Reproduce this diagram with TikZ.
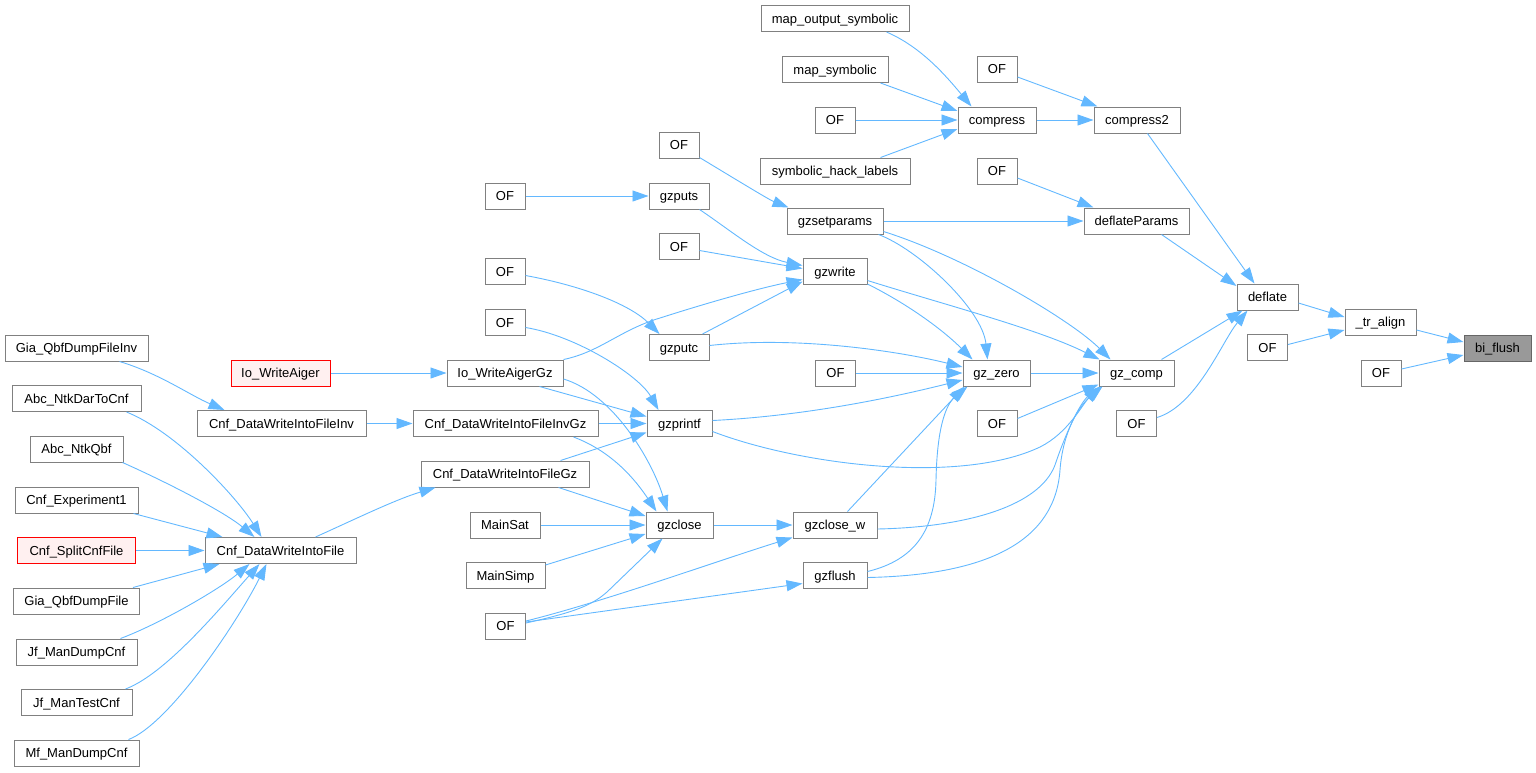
\documentclass[tikz,border=0pt]{standalone}
\usepackage{fontspec}
\setmainfont{Liberation Sans}
\usetikzlibrary{arrows.meta,calc}
\definecolor{boxgray}{HTML}{808080}
\definecolor{edgeblue}{HTML}{63B8FF}
\definecolor{redfill}{HTML}{FFF0F0}
\definecolor{curfill}{HTML}{999999}
\definecolor{curborder}{HTML}{666666}
\tikzset{
 box/.style={draw=boxgray, fill=white, line width=1pt, minimum height=26pt, inner sep=0pt, text height=12pt, text depth=2.7pt, font=\fontsize{13}{15}\selectfont},
 redbox/.style={box, draw=red, fill=redfill},
 curbox/.style={box, draw=curborder, fill=curfill},
 conn/.style={draw=edgeblue, line width=0.9pt, -{Triangle[length=16pt,width=11pt]}},
}
\begin{document}
\begin{tikzpicture}[x=1pt,y=-1pt]
\useasboundingbox (0,0) rectangle (1536,772);
% nodes
\node[box, minimum width=148pt] (mos) at (835,18.5) {map\_output\_symbolic};
\node[box, minimum width=106pt] (ms) at (835,69.5) {map\_symbolic};
\node[box, minimum width=40pt] (ofc) at (835,120) {OF};
\node[box, minimum width=150pt] (shl) at (835,171) {symbolic\_hack\_labels};
\node[box, minimum width=78pt] (cmp) at (997,120) {compress};
\node[box, minimum width=40pt] (ofc2) at (997,69) {OF};
\node[box, minimum width=86pt] (cmp2) at (1137,120) {compress2};
\node[box, minimum width=40pt] (ofdp) at (997,171) {OF};
\node[box, minimum width=105pt] (dp) at (1136.5,221) {deflateParams};
\node[box, minimum width=61pt] (dfl) at (1267.5,297) {deflate};
\node[box, minimum width=71pt] (tra) at (1380.5,322) {\_tr\_align};
\node[box, minimum width=40pt] (oftr) at (1267.5,347.5) {OF};
\node[curbox, minimum width=67pt] (bif) at (1497.5,348) {bi\_flush};
\node[box, minimum width=40pt] (ofbf) at (1381,373) {OF};
\node[box, minimum width=75pt] (gzc) at (1136.5,373) {gz\_comp};
\node[box, minimum width=67pt] (gzz) at (996.5,373) {gz\_zero};
\node[box, minimum width=40pt] (ofgzc) at (997,423.5) {OF};
\node[box, minimum width=40pt] (ofdef) at (1136.5,423.5) {OF};
\node[box, minimum width=40pt] (ofgzz) at (835.5,373) {OF};
\node[box, minimum width=96pt] (gzs) at (835,221) {gzsetparams};
\node[box, minimum width=64pt] (gzw) at (835,271.5) {gzwrite};
\node[box, minimum width=40pt] (ofgw) at (679,246.5) {OF};
\node[box, minimum width=40pt] (ofgs) at (679,145) {OF};
\node[box, minimum width=60pt] (gzpt) at (679,196) {gzputs};
\node[box, minimum width=40pt] (ofgp) at (505,196) {OF};
\node[box, minimum width=40pt] (ofpc) at (505,271.5) {OF};
\node[box, minimum width=40pt] (ofpf) at (505,322.5) {OF};
\node[box, minimum width=60pt] (gzpc) at (679,347.5) {gzputc};
\node[box, minimum width=65pt] (gzp) at (679.5,423.5) {gzprintf};
\node[box, minimum width=116pt] (iowgz) at (505,373) {Io\_WriteAigerGz};
\node[box, minimum width=185pt] (cdwfigz) at (505.5,423.5) {Cnf\_DataWriteIntoFileInvGz};
\node[box, minimum width=168pt] (cdwfgz) at (505,474) {Cnf\_DataWriteIntoFileGz};
\node[box, minimum width=70pt] (msat) at (505,525) {MainSat};
\node[box, minimum width=79pt] (msimp) at (505.5,575.5) {MainSimp};
\node[box, minimum width=40pt] (ofbot) at (505.5,626) {OF};
\node[box, minimum width=67pt] (gzcl) at (679.5,525) {gzclose};
\node[box, minimum width=84pt] (gzclw) at (835,525) {gzclose\_w};
\node[box, minimum width=64pt] (gzfl) at (835,575.5) {gzflush};
\node[redbox, minimum width=99pt] (iow) at (280.5,373) {Io\_WriteAiger};
\node[box, minimum width=169pt] (cdwfi) at (281.5,423.5) {Cnf\_DataWriteIntoFileInv};
\node[box, minimum width=151pt] (cdwf) at (280.5,550.5) {Cnf\_DataWriteIntoFile};
\node[box, minimum width=143pt] (gqdfi) at (76.5,348) {Gia\_QbfDumpFileInv};
\node[box, minimum width=129pt] (andtc) at (76.5,398.5) {Abc\_NtkDarToCnf};
\node[box, minimum width=93pt] (anq) at (76.5,449) {Abc\_NtkQbf};
\node[box, minimum width=123pt] (ce1) at (76.5,500) {Cnf\_Experiment1};
\node[redbox, minimum width=118pt] (csc) at (76.5,550.5) {Cnf\_SplitCnfFile};
\node[box, minimum width=126pt] (gqdf) at (76.5,601) {Gia\_QbfDumpFile};
\node[box, minimum width=121pt] (jmdc) at (76.5,652) {Jf\_ManDumpCnf};
\node[box, minimum width=111pt] (jmtc) at (76.5,702.5) {Jf\_ManTestCnf};
\node[box, minimum width=125pt] (mmdc) at (76.5,753) {Mf\_ManDumpCnf};
% edges: top cluster
\draw[conn] ($(mos.south west)+(126,0)$) .. controls +(35,15) and +(-25,-30) .. ($(cmp.north west)+(14,0)$);
\draw[conn] ($(ms.south east)+(-8,0)$) -- ($(cmp.west)+(0,-9)$);
\draw[conn] (ofc.east) -- (cmp.west);
\draw[conn] ($(shl.north east)+(-30,0)$) -- ($(cmp.west)+(0,9)$);
\draw[conn] (cmp.east) -- (cmp2.west);
\draw[conn] ($(ofc2.east)+(0,8)$) -- ($(cmp2.north west)+(4,0)$);
\draw[conn] ($(cmp2.south west)+(54,0)$) -- ($(dfl.north west)+(18,0)$);
\draw[conn] ($(ofdp.east)+(0,7)$) -- ($(dp.north west)+(10,0)$);
\draw[conn] (gzs.east) -- (dp.west);
\draw[conn] ($(dp.south west)+(78,0)$) -- ($(dfl.west)+(0,-11)$);
\draw[conn] ($(gzs.south east)+(-5,0)$) .. controls +(40,15) and +(-5,-50) .. ($(gzz.north west)+(25,0)$);
\draw[conn] ($(gzs.south east)+(0,-3)$) .. controls +(80,25) and +(-40,-40) .. ($(gzc.north west)+(12,0)$);
\draw[conn] ($(ofgs.south east)+(0,-1)$) .. controls +(25,15) and +(-20,-8) .. ($(gzs.north west)+(2,0)$);
\draw[conn] (ofgp.east) -- (gzpt.west);
\draw[conn] ($(gzpt.south west)+(51,0)$) .. controls +(30,20) and +(-40,-8) .. ($(gzw.west)+(0,-6)$);
\draw[conn] ($(ofgw.east)+(0,4)$) -- ($(gzw.west)+(0,-3)$);
\draw[conn] ($(gzw.south east)+(0,-1)$) .. controls +(40,20) and +(-30,-30) .. ($(gzz.north west)+(10,0)$);
\draw[conn] ($(gzw.east)+(0,9)$) .. controls +(80,25) and +(-60,-30) .. ($(gzc.north west)+(1,0)$);
\draw[conn] (iowgz.north east) .. controls (600,352) and (620,330) .. (660,318) .. controls (710,302) and (760,288) .. ($(gzw.west)+(0,8)$);
\draw[conn] ($(gzpc.north west)+(54,0)$) -- ($(gzw.west)+(0,10)$);
\draw[conn] ($(ofpc.east)+(0,4)$) .. controls +(55,10) and +(-30,-30) .. ($(gzpc.north west)+(11,0)$);
\draw[conn] ($(gzpc.east)+(0,-2)$) .. controls +(90,-10) and +(-60,-15) .. ($(gzz.west)+(0,-6)$);
\draw[conn] ($(ofpf.east)+(0,5)$) .. controls +(50,8) and +(-20,-35) .. ($(gzp.north west)+(12,0)$);
\draw[conn] (ofgzz.east) -- (gzz.west);
\draw[conn] ($(gzp.east)+(0,-3)$) .. controls +(100,-5) and +(-60,15) .. ($(gzz.west)+(0,7)$);
\draw[conn] ($(gzp.east)+(0,8)$) .. controls (800,465) and (960,485) .. (1040,447) .. controls (1068,433) and (1082,405) .. ($(gzc.south west)+(1,0)$);
\draw[conn] (gzz.east) -- (gzc.west);
\draw[conn] ($(ofgzc.east)+(0,-5)$) -- ($(gzc.south west)+(0,-2)$);
\draw[conn] ($(gzc.north west)+(63,0)$) -- ($(dfl.south west)+(6,0)$);
\draw[conn] ($(ofdef.east)+(0,-6)$) .. controls +(40,-12) and +(-25,30) .. ($(dfl.south west)+(11,0)$);
\draw[conn] ($(dfl.east)+(0,6)$) -- ($(tra.west)+(0,-5)$);
\draw[conn] ($(oftr.east)+(0,-3)$) -- ($(tra.west)+(0,8)$);
\draw[conn] ($(tra.east)+(0,8)$) -- ($(bif.west)+(0,-6)$);
\draw[conn] ($(ofbf.east)+(0,-4)$) -- ($(bif.west)+(0,7)$);
% left part
\draw[conn] ($(gqdfi.south west)+(115,0)$) .. controls +(40,12) and +(-35,-15) .. ($(cdwfi.north west)+(28,0)$);
\draw[conn] (iow.east) -- (iowgz.west);
\draw[conn] (cdwfi.east) -- (cdwfigz.west);
\draw[conn] ($(iowgz.south west)+(93,0)$) -- ($(gzp.west)+(0,-7)$);
\draw[conn] ($(iowgz.east)+(0,6)$) .. controls +(50,15) and +(-15,-50) .. ($(gzcl.north west)+(22,0)$);
\draw[conn] (cdwfigz.east) -- (gzp.west);
\draw[conn] ($(cdwfigz.south east)+(-25,0)$) .. controls +(40,15) and +(-20,-30) .. ($(gzcl.north west)+(11,0)$);
\draw[conn] ($(cdwfgz.north east)+(-29,0)$) -- ($(gzp.west)+(0,9)$);
\draw[conn] ($(cdwfgz.south east)+(-31,0)$) -- ($(gzcl.west)+(0,-9)$);
\draw[conn] ($(cdwf.north east)+(-41,0)$) .. controls +(40,-18) and +(-40,12) .. ($(cdwfgz.south west)+(15,0)$);
\draw[conn] ($(andtc.south east)+(-15,0)$) .. controls +(50,20) and +(-25,-40) .. ($(cdwf.north west)+(57,0)$);
\draw[conn] ($(anq.south east)+(-1,0)$) .. controls +(45,20) and +(-30,-25) .. ($(cdwf.north west)+(50,0)$);
\draw[conn] ($(ce1.south east)+(-5,0)$) -- ($(cdwf.north west)+(18,0)$);
\draw[conn] (csc.east) -- (cdwf.west);
\draw[conn] ($(gqdf.north east)+(-7,0)$) -- ($(cdwf.south west)+(15,0)$);
\draw[conn] ($(jmdc.north east)+(-17,0)$) .. controls +(40,-15) and +(-30,25) .. ($(cdwf.south west)+(45,0)$);
\draw[conn] ($(jmtc.north east)+(-7,0)$) .. controls +(40,-15) and +(-40,45) .. ($(cdwf.south west)+(55,0)$);
\draw[conn] ($(mmdc.north east)+(-11,0)$) .. controls +(40,-15) and +(-30,60) .. ($(cdwf.south west)+(62,0)$);
% bottom middle
\draw[conn] (msat.east) -- (gzcl.west);
\draw[conn] ($(msimp.north east)+(0,3)$) -- ($(gzcl.west)+(0,9)$);
\draw[conn] ($(ofbot.east)+(0,-3)$) .. controls (570,613) and (590,607) .. (607,592) -- ($(gzcl.south west)+(17,0)$);
\draw[conn] ($(ofbot.east)+(0,-5)$) .. controls +(80,-20) and +(-80,25) .. ($(gzclw.south west)+(0,-1)$);
\draw[conn] ($(ofbot.east)+(0,-4)$) -- ($(gzfl.west)+(0,8)$);
\draw[conn] (gzcl.east) -- (gzclw.west);
\draw[conn] ($(gzclw.north west)+(55,0)$) -- ($(gzz.south west)+(2,0)$);
\draw[conn] ($(gzclw.east)+(0,4)$) .. controls (970,527) and (1040,505) .. (1055,465) .. controls (1065,435) and (1080,402) .. ($(gzc.south west)+(3,0)$);
\draw[conn] ($(gzfl.east)+(0,-4)$) .. controls (915,560) and (935,530) .. (936,480) .. controls (937,430) and (945,405) .. ($(gzz.south west)+(5,0)$);
\draw[conn] ($(gzfl.east)+(0,2)$) .. controls (990,575) and (1055,540) .. (1060,470) .. controls (1063,430) and (1080,405) .. ($(gzc.south west)+(4,0)$);
\end{tikzpicture}
\end{document}
